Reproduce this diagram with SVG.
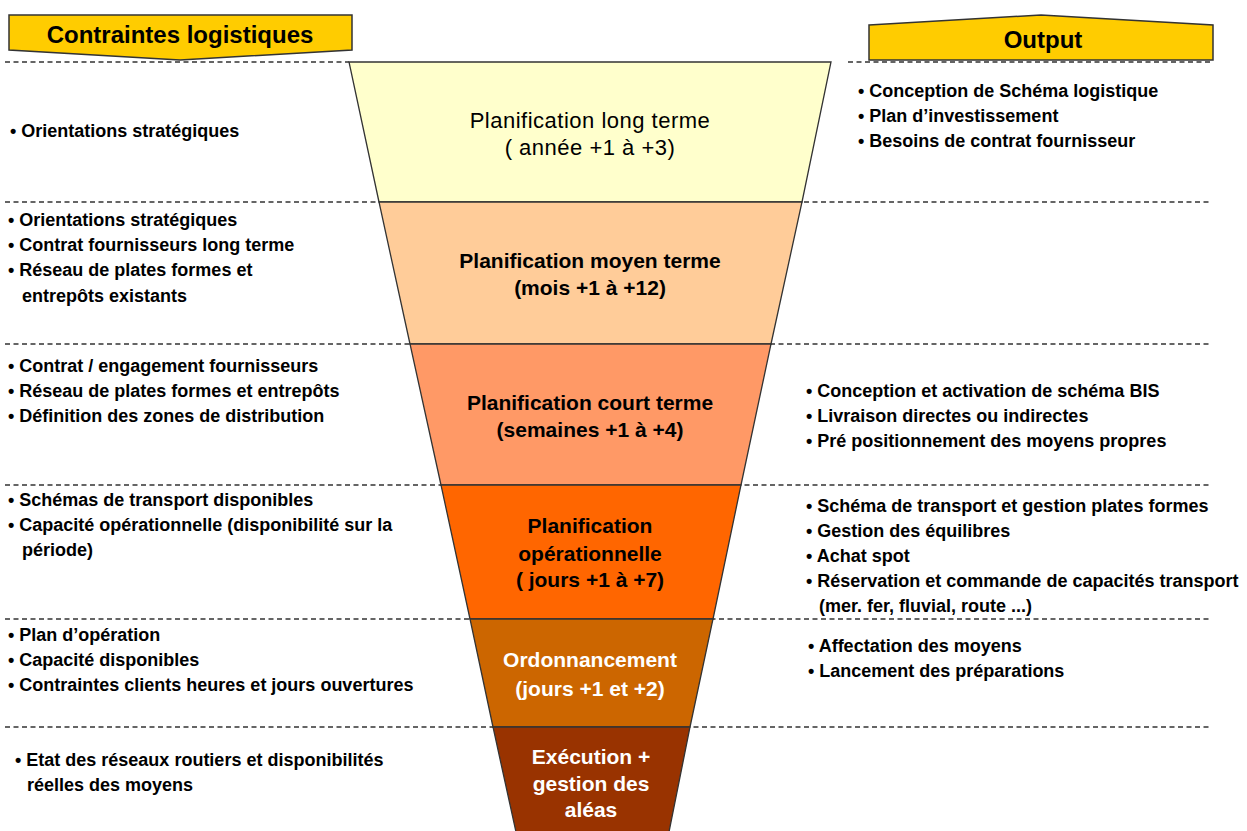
<svg xmlns="http://www.w3.org/2000/svg" width="1247" height="831" viewBox="0 0 1247 831">
<style>
.bg{fill:#ffffff}
.sep{stroke:#333333;stroke-width:1.5;stroke-dasharray:5 3.5;fill:none}
.band{stroke:#333333;stroke-width:1.3}
.hdr{fill:#FFCC00;stroke:#333333;stroke-width:1.5}
.hdrt{font-family:"Liberation Sans",Arial,sans-serif;font-weight:bold;font-size:24px;fill:#000;text-anchor:middle}
.lbl{font-family:"Liberation Sans",Arial,sans-serif;font-weight:bold;font-size:21px;text-anchor:middle}
.lblr{font-family:"Liberation Sans",Arial,sans-serif;font-size:22px;letter-spacing:0.5px;text-anchor:middle;fill:#000}
.blk{fill:#000}
.wht{fill:#ffffff}
.it{font-family:"Liberation Sans",Arial,sans-serif;font-weight:bold;font-size:18px;fill:#000}
</style>
<rect class="bg" x="0" y="0" width="1247" height="831"/>

<g id="connectors">
  <line class="sep" x1="5" y1="62" x2="349" y2="62"/>
  <line class="sep" x1="848" y1="62" x2="1210" y2="62"/>
  <line class="sep" x1="5" y1="202" x2="1210" y2="202"/>
  <line class="sep" x1="5" y1="344" x2="1210" y2="344"/>
  <line class="sep" x1="5" y1="485" x2="1210" y2="485"/>
  <line class="sep" x1="5" y1="619" x2="1210" y2="619"/>
  <line class="sep" x1="5" y1="727" x2="1210" y2="727"/>
</g>

<g id="header-contraintes">
  <polygon class="hdr" points="9,15 352,15 352,50 180,60 9,50"/>
  <text class="hdrt" x="180" y="43">Contraintes logistiques</text>
</g>
<g id="header-output">
  <polygon class="hdr" points="869,25 1041,15 1213,25 1213,60 869,60"/>
  <text class="hdrt" x="1043" y="48">Output</text>
</g>

<g id="band-long-terme">
  <polygon class="band" fill="#FFFFCC" points="349,62 831,62 802,202 379,202"/>
  <text class="lblr" x="590" y="128">Planification long terme</text>
  <text class="lblr" x="590" y="155">( année +1 à +3)</text>
</g>
<g id="band-moyen-terme">
  <polygon class="band" fill="#FFCC99" points="379,202 802,202 771,344 410,344"/>
  <text class="lbl blk" x="590" y="268">Planification moyen terme</text>
  <text class="lbl blk" x="590" y="295">(mois +1 à +12)</text>
</g>
<g id="band-court-terme">
  <polygon class="band" fill="#FF9966" points="410,344 771,344 741,485 441,485"/>
  <text class="lbl blk" x="590" y="410">Planification court terme</text>
  <text class="lbl blk" x="590" y="437">(semaines +1 à +4)</text>
</g>
<g id="band-operationnelle">
  <polygon class="band" fill="#FF6600" points="441,485 741,485 713,619 470,619"/>
  <text class="lbl blk" x="590" y="533">Planification</text>
  <text class="lbl blk" x="590" y="561">opérationnelle</text>
  <text class="lbl blk" x="590" y="587">( jours +1 à +7)</text>
</g>
<g id="band-ordonnancement">
  <polygon class="band" fill="#CC6600" points="470,619 713,619 690,727 493,727"/>
  <text class="lbl wht" x="590" y="667">Ordonnancement</text>
  <text class="lbl wht" x="590" y="696">(jours +1 et +2)</text>
</g>
<g id="band-execution">
  <polygon class="band" fill="#993300" points="493,727 690,727 669,832 516,832"/>
  <text class="lbl wht" x="591" y="764">Exécution +</text>
  <text class="lbl wht" x="591" y="791">gestion des</text>
  <text class="lbl wht" x="591" y="817">aléas</text>
</g>

<g id="contraintes-1">
  <text class="it" x="10" y="137">• Orientations stratégiques</text>
</g>
<g id="contraintes-2">
  <text class="it" x="8" y="226">• Orientations stratégiques</text>
  <text class="it" x="8" y="251">• Contrat fournisseurs long terme</text>
  <text class="it" x="8" y="276">• Réseau de plates formes et</text>
  <text class="it" x="22" y="302">entrepôts existants</text>
</g>
<g id="contraintes-3">
  <text class="it" x="8" y="372">• Contrat / engagement fournisseurs</text>
  <text class="it" x="8" y="397">• Réseau de plates formes et entrepôts</text>
  <text class="it" x="8" y="422">• Définition des zones de distribution</text>
</g>
<g id="contraintes-4">
  <text class="it" x="8" y="506">• Schémas de transport disponibles</text>
  <text class="it" x="8" y="531">• Capacité opérationnelle (disponibilité sur la</text>
  <text class="it" x="22" y="556">période)</text>
</g>
<g id="contraintes-5">
  <text class="it" x="8" y="641">• Plan d’opération</text>
  <text class="it" x="8" y="666">• Capacité disponibles</text>
  <text class="it" x="8" y="691">• Contraintes clients heures et jours ouvertures</text>
</g>
<g id="contraintes-6">
  <text class="it" x="15" y="766">• Etat des réseaux routiers et disponibilités</text>
  <text class="it" x="27" y="791">réelles des moyens</text>
</g>

<g id="output-1">
  <text class="it" x="858" y="97">• Conception de Schéma logistique</text>
  <text class="it" x="858" y="122">• Plan d’investissement</text>
  <text class="it" x="858" y="147">• Besoins de contrat fournisseur</text>
</g>
<g id="output-3">
  <text class="it" x="806" y="397">• Conception et activation de schéma BIS</text>
  <text class="it" x="806" y="422">• Livraison directes ou indirectes</text>
  <text class="it" x="806" y="447">• Pré positionnement des moyens propres</text>
</g>
<g id="output-4">
  <text class="it" x="806" y="512">• Schéma de transport et gestion plates formes</text>
  <text class="it" x="806" y="537">• Gestion des équilibres</text>
  <text class="it" x="806" y="562">• Achat spot</text>
  <text class="it" x="806" y="587">• Réservation et commande de capacités transport</text>
  <text class="it" x="819" y="612">(mer. fer, fluvial, route ...)</text>
</g>
<g id="output-5">
  <text class="it" x="808" y="652">• Affectation des moyens</text>
  <text class="it" x="808" y="677">• Lancement des préparations</text>
</g>
</svg>
